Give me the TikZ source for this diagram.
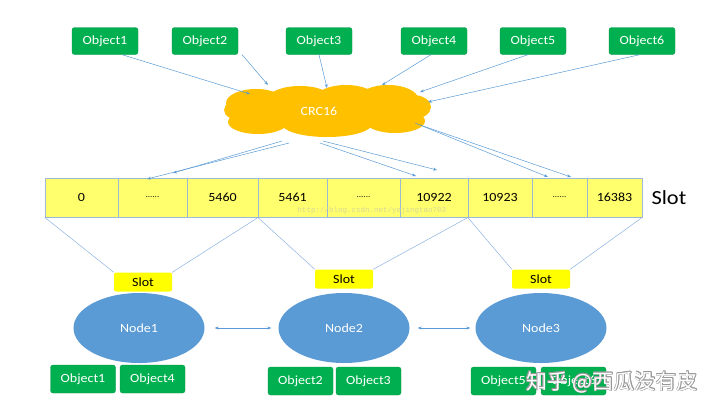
\documentclass[tikz,border=0pt]{standalone}
\usepackage{fontspec}
\setmainfont{Carlito}[FakeStretch=1.12]
\newfontfamily\cjk{Noto Sans CJK SC}
\newfontfamily\wmono{Liberation Mono}
\usetikzlibrary{shapes.geometric,shapes.symbols,arrows.meta}
\definecolor{objgreen}{HTML}{00B050}
\definecolor{arrowblue}{HTML}{5B9BD5}
\definecolor{nodeblue}{HTML}{5B9BD5}
\definecolor{cloudorange}{HTML}{FFC000}
\definecolor{barfill}{HTML}{FFFF6E}
\definecolor{slotyellow}{HTML}{FFFF00}
\definecolor{barline}{HTML}{9DB9D6}
\definecolor{linkblue}{HTML}{8DB4E2}
\tikzset{
  obj/.style={rectangle, rounded corners=2.5pt, fill=objgreen, draw=objgreen!85!black, line width=0.3pt,
    text=white, minimum width=66pt, minimum height=27pt, inner sep=0pt, font=\fontsize{12.5}{14}\selectfont},
  cell/.style={rectangle, draw=barline, fill=barfill, line width=0.6pt, minimum height=39pt, inner sep=0pt,
    font=\fontsize{12.5}{14}\selectfont},
  slotbox/.style={rectangle, rounded corners=2pt, fill=slotyellow, minimum width=58pt, minimum height=19pt,
    inner sep=0pt, font=\fontsize{12.5}{14}\selectfont},
  hashnode/.style={ellipse, fill=nodeblue, text=white, minimum width=131pt, minimum height=70pt, inner sep=0pt,
    font=\fontsize{12.5}{14}\selectfont},
  conn/.style={draw=arrowblue, line width=0.5pt, -{Stealth[length=4pt,width=3pt]}},
  dconn/.style={draw=arrowblue, line width=0.5pt, {Stealth[length=4pt,width=3pt]}-{Stealth[length=4pt,width=3pt]}},
  link/.style={draw=linkblue, line width=0.5pt}
}
\begin{document}
\begin{tikzpicture}[x=1pt,y=-1pt]
\useasboundingbox (0,0) rectangle (720,413);
\fill[white] (0,0) rectangle (720,413);

% top objects
\node[obj] (o1) at (105,41) {Object1};
\node[obj] (o2) at (205,41) {Object2};
\node[obj] (o3) at (319,41) {Object3};
\node[obj] (o4) at (434,41) {Object4};
\node[obj] (o5) at (533,41) {Object5};
\node[obj] (o6) at (642,41) {Object6};

% cloud shape (union of puffs)
\fill[cloudorange]
  (327,111) ellipse [x radius=92, y radius=19]
  (256,103) ellipse [x radius=30, y radius=14]
  (300,99) ellipse [x radius=32, y radius=13]
  (346,98) ellipse [x radius=30, y radius=13]
  (388,99) ellipse [x radius=30, y radius=14]
  (413,107) ellipse [x radius=18, y radius=12]
  (243,110) ellipse [x radius=19, y radius=11]
  (258,122) ellipse [x radius=30, y radius=12]
  (327,124) ellipse [x radius=45, y radius=13]
  (395,121) ellipse [x radius=30, y radius=12];
\node[rectangle, text=white, minimum width=200pt, minimum height=50pt, inner sep=0pt,
  font=\fontsize{12.5}{14}\selectfont] (cl) at (327,111) {\hspace*{-16pt}CRC16};

% arrow tips
\coordinate (t1) at (250,94);
\coordinate (t2) at (268,85);
\coordinate (t3) at (327,88);
\coordinate (t4) at (382,85);
\coordinate (t5) at (420,92);
\coordinate (t6) at (428,102);
\draw[conn] ([xshift=17pt]o1.south) -- (t1);
\draw[conn] ([xshift=37pt]o2.south) -- (t2);
\draw[conn] (o3.south) -- (t3);
\draw[conn] ([xshift=-3pt]o4.south) -- (t4);
\draw[conn] ([xshift=-5pt]o5.south) -- (t5);
\draw[conn] ([xshift=-2pt]o6.south) -- (t6);

% slot bar
\node[cell, minimum width=73pt] (c1) at (81.5,197.5) {0};
\node[cell, minimum width=69pt] (c2) at (152.5,197.5) {\fontsize{8}{8}\selectfont......};
\node[cell, minimum width=71pt] (c3) at (222.5,197.5) {5460};
\node[cell, minimum width=69pt] (c4) at (292.5,197.5) {5461};
\node[cell, minimum width=73pt] (c5) at (363.5,197.5) {\fontsize{8}{8}\selectfont......};
\node[cell, minimum width=68pt] (c6) at (434,197.5) {10922};
\node[cell, minimum width=64pt] (c7) at (500,197.5) {10923};
\node[cell, minimum width=55pt] (c8) at (559.5,197.5) {\fontsize{8}{8}\selectfont......};
\node[cell, minimum width=55pt] (c9) at (614.5,197.5) {16383};
\node[font=\fontsize{20}{22}\selectfont, anchor=west] (slotlbl) at (648,198) {Slot};
\node[font=\wmono\fontsize{7.5}{8}\selectfont, text={rgb,255:red,215;green,215;blue,150}] (wm1) at (372,211) {http://blog.csdn.net/yejingtao703};

% cloud to bar arrows
\coordinate (b1) at (147,179);
\coordinate (b2) at (173,173);
\coordinate (b3) at (416,176);
\coordinate (b4) at (437,170);
\coordinate (b5) at (548,177);
\coordinate (b6) at (571,177);
\draw[conn] ([shift={(-38,32)}]cl.center) -- (b1);
\draw[conn] ([shift={(-45,30)}]cl.center) -- (b2);
\draw[conn] ([shift={(-7,32)}]cl.center) -- (b3);
\draw[conn] ([shift={(-4,30)}]cl.center) -- (b4);
\draw[conn] ([shift={(88,12)}]cl.center) -- (b5);
\draw[conn] ([shift={(93,14)}]cl.center) -- (b6);

% hash nodes
\node[hashnode] (n1) at (139,328) {Node1};
\node[hashnode] (n2) at (344,328) {Node2};
\node[hashnode] (n3) at (541,328) {Node3};

% slot boxes
\node[slotbox] (s1) at (143,282) {Slot};
\node[slotbox] (s2) at (344,279) {Slot};
\node[slotbox] (s3) at (541,279) {Slot};

\draw[link] (c1.south west) -- (s1.north west);
\draw[link] (c3.south east) -- (s1.north east);
\draw[link] (c4.south west) -- (s2.north west);
\draw[link] (c6.south east) -- (s2.north east);
\draw[link] (c7.south west) -- (s3.north west);
\draw[link] (c9.south east) -- (s3.north east);

\draw[dconn] ([xshift=10pt]n1.east) -- ([xshift=-7pt]n2.west);
\draw[dconn] ([xshift=8pt]n2.east) -- ([xshift=-5pt]n3.west);

% bottom objects
\node[obj, minimum width=65pt, minimum height=28pt] (p1) at (83,379) {Object1};
\node[obj, minimum width=65pt, minimum height=28pt] (p4) at (152.5,379) {Object4};
\node[obj, minimum width=65pt, minimum height=28pt] (p2) at (300.5,381) {Object2};
\node[obj, minimum width=65pt, minimum height=28pt] (p3) at (368.5,381) {Object3};
\node[obj, minimum width=65pt, minimum height=28pt] (p5) at (503.5,381) {Object5};
\node[obj, minimum width=65pt, minimum height=28pt] (p6) at (573.5,381) {Object6};

% watermark
\foreach \dx/\dy in {-0.7/0,0.7/0,0/-0.7,0/0.7,-0.5/-0.5,0.5/0.5,-0.5/0.5,0.5/-0.5}{
  \node[font=\cjk\fontsize{21}{22}\selectfont, text=gray!80] at (612+\dx,382+\dy) {知乎 @西瓜没有皮};
}
\node[font=\cjk\fontsize{21}{22}\selectfont, text=white] (wm2) at (612,382) {知乎 @西瓜没有皮};
\end{tikzpicture}
\end{document}
